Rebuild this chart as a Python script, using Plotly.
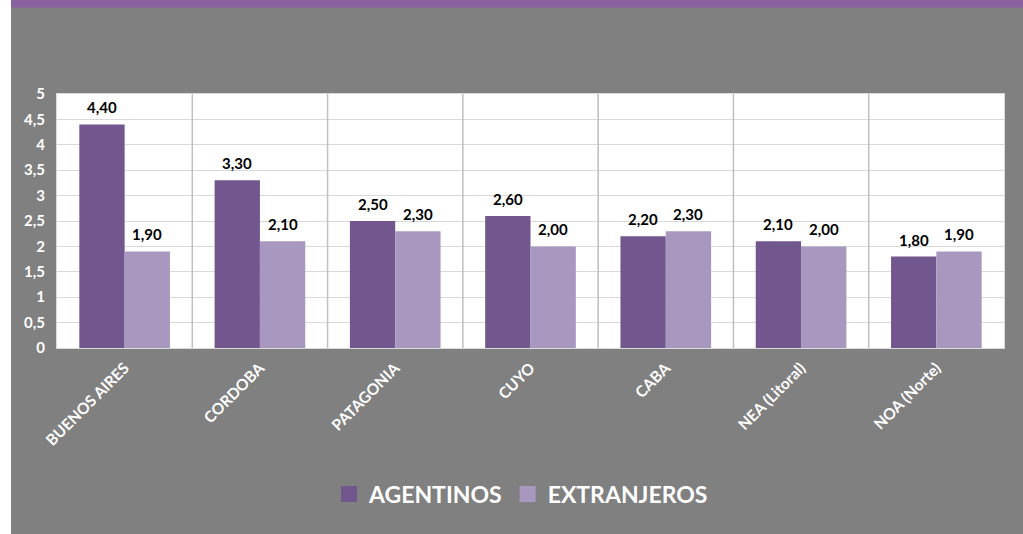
import plotly.graph_objects as go

categories = ["BUENOS AIRES", "CORDOBA", "PATAGONIA", "CUYO", "CABA", "NEA (Litoral)", "NOA (Norte)"]
agentinos = [4.40, 3.30, 2.50, 2.60, 2.20, 2.10, 1.80]
extranjeros = [1.90, 2.10, 2.30, 2.00, 2.30, 2.00, 1.90]
series_names = ["AGENTINOS", "EXTRANJEROS"]
y_ticks = [0, 0.5, 1, 1.5, 2, 2.5, 3, 3.5, 4, 4.5, 5]

DARK = "#72578F"
LIGHT = "#A898BF"
GRAY = "#808080"
FONT = "Lato"

def fmt(v):
    return f"{v:.2f}".replace(".", ",")

def tick_fmt(v):
    return f"{v:g}".replace(".", ",")

W, H = 1023, 534
L, R, T, B = 57, 19, 94, 186
pw, ph = W - L - R, H - T - B
BARGAP = 0.33
bar_px = pw / len(categories) * (1 - BARGAP) / 2

def px_x(px):
    return (px - L) / pw

def px_y(py):
    return (H - B - py) / ph

fig = go.Figure()
series = [(series_names[0], agentinos, DARK, -0.5), (series_names[1], extranjeros, LIGHT, 0.5)]
annotations = []
for name, vals, col, side in series:
    fig.add_trace(go.Bar(
        x=categories, y=vals, name=name, marker=dict(color=col, line=dict(width=0)),
        hoverinfo="skip", showlegend=False,
    ))
    for c, v in zip(categories, vals):
        annotations.append(dict(
            x=c, y=v, xref="x", yref="y", text=fmt(v), showarrow=False,
            xanchor="center", yanchor="bottom", xshift=side * bar_px, yshift=6,
            font=dict(family=FONT, size=15, color="#000000", weight="bold"),
        ))
for name, col in [(series_names[0], DARK), (series_names[1], LIGHT)]:
    fig.add_trace(go.Scatter(
        x=[None], y=[None], mode="markers", name=name,
        marker=dict(symbol="square", size=16, color=col), showlegend=True, hoverinfo="skip",
    ))

shapes = []
shapes.append(dict(type="rect", xref="paper", yref="paper", x0=px_x(-1), x1=px_x(11),
                   y0=px_y(H + 1), y1=px_y(-1), fillcolor="#FFFFFF", line=dict(width=0), layer="below"))
shapes.append(dict(type="rect", xref="paper", yref="paper", x0=px_x(11), x1=px_x(W + 1),
                   y0=px_y(7.5), y1=px_y(-1), fillcolor="#8961A0", line=dict(width=0), layer="below"))
for i in range(len(categories) - 1):
    shapes.append(dict(type="line", xref="x", yref="paper", x0=i + 0.5, x1=i + 0.5, y0=0, y1=1,
                       line=dict(color="#BFBFBF", width=1.5), layer="above"))

fig.update_layout(
    width=W, height=H,
    margin=dict(l=L, r=R, t=T, b=B),
    paper_bgcolor=GRAY, plot_bgcolor="#FFFFFF",
    barmode="group", bargap=BARGAP, bargroupgap=0,
    separators=",.",
    showlegend=True,
    legend=dict(orientation="h", x=px_x(521), xanchor="center", y=px_y(494), yanchor="middle",
                font=dict(family=FONT, size=23, color="#FFFFFF", weight="bold"),
                bgcolor="rgba(0,0,0,0)", itemwidth=30, traceorder="normal"),
    xaxis=dict(tickangle=-45, tickfont=dict(family=FONT, size=15.5, color="#FFFFFF", weight="bold"),
               showgrid=False, showline=True, linecolor="#D9D9D9", mirror=True, ticks="",
               fixedrange=True, range=[-0.5, len(categories) - 0.5], ticklabelstandoff=4),
    yaxis=dict(range=[0, 5], tickvals=y_ticks, ticktext=[tick_fmt(v) for v in y_ticks],
               tickfont=dict(family=FONT, size=15, color="#FFFFFF", weight="bold"),
               showgrid=True, gridcolor="#D9D9D9", gridwidth=1, showline=True, linecolor="#D9D9D9",
               mirror=True, zeroline=False, ticks="", ticklabelstandoff=8, fixedrange=True),
    shapes=shapes,
    annotations=annotations,
)

fig.write_html("out.html", config={"displayModeBar": False},
               post_script="document.body.style.margin='0';document.body.style.padding='0';")
